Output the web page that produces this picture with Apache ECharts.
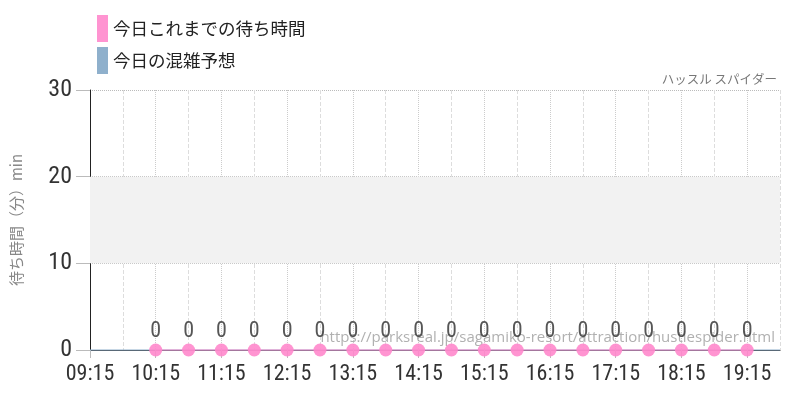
<!DOCTYPE html>
<html>
<head>
<meta charset="utf-8">
<script src="https://cdn.jsdelivr.net/npm/echarts@6/dist/echarts.min.js"></script>
<style>
html, body { margin: 0; padding: 0; background: #fff; }
#main { width: 800px; height: 400px; }
</style>
</head>
<body>
<div id="main"></div>
<script>
var times = ['09:15','09:45','10:15','10:45','11:15','11:45','12:15','12:45','13:15','13:45','14:15',
             '14:45','15:15','15:45','16:15','16:45','17:15','17:45','18:15','18:45','19:15','19:45'];
var waitTimes = [null,null,0,0,0,0,0,0,0,0,0,0,0,0,0,0,0,0,0,0,0,null];
var forecast = [0,0,0,0,0,0,0,0,0,0,0,0,0,0,0,0,0,0,0,0,0,0];
var yTicks = [0, 10, 20, 30];

var numFont = '"Roboto Condensed", "DejaVu Sans Condensed", "Roboto", sans-serif';
var jpFont = '"Noto Sans CJK JP", sans-serif';

var dom = document.getElementById("main");
var myChart = echarts.init(dom);
var option = {
    animation: false,
    title: {
        text: 'ハッスル スパイダー',
        right: 18,
        top: 68,
        textStyle: { fontFamily: jpFont, fontSize: 12.5, fontWeight: 'normal', color: '#777' }
    },
    legend: {
        orient: 'vertical',
        left: 92,
        top: 10,
        itemWidth: 11,
        itemHeight: 27,
        itemGap: 5,
        icon: 'rect',
        textStyle: { fontFamily: jpFont, fontSize: 17.5, color: '#222' },
        data: ['今日これまでの待ち時間', '今日の混雑予想']
    },
    graphic: [{
        type: 'text',
        right: 25,
        top: 330,
        z: 1,
        style: {
            text: 'https://parksreal.jp/sagamiko-resort/attraction/hustlespider.html',
            fontFamily: '"Open Sans", sans-serif',
            fontSize: 15,
            fill: 'rgba(150,150,150,0.75)'
        }
    }],
    grid: { left: 90, right: 20, top: 90, bottom: 50 },
    xAxis: [{
        type: 'category',
        boundaryGap: false,
        data: times,
        axisLine: { lineStyle: { color: '#222' } },
        axisTick: { interval: 1, length: 8, lineStyle: { color: '#bbb' } },
        axisLabel: { interval: 1, fontFamily: numFont, fontSize: 22, color: '#333', margin: 13 },
        splitLine: { show: true, interval: function (i) { return i % 2 === 0; }, lineStyle: { type: 'dotted', color: '#ccc' } }
    }, {
        type: 'category',
        boundaryGap: false,
        data: times,
        position: 'bottom',
        axisLine: { show: false },
        axisTick: { show: false },
        axisLabel: { show: false },
        splitLine: { show: true, interval: function (i) { return i % 2 === 1; }, lineStyle: { type: 'dashed', color: '#ddd' } }
    }],
    yAxis: {
        type: 'value',
        min: 0,
        max: 30,
        interval: 10,
        name: '待ち時間（分）min',
        nameLocation: 'middle',
        nameGap: 66,
        nameTextStyle: { fontFamily: jpFont, fontSize: 15, color: '#888' },
        axisLine: { show: true, lineStyle: { color: '#222' } },
        axisTick: { show: true, length: 14, lineStyle: { color: '#bbb' } },
        axisLabel: { fontFamily: numFont, fontSize: 24, color: '#333', margin: 18 },
        splitLine: { show: true, lineStyle: { type: 'dotted', color: '#bbb' } }
    },
    series: [{
        name: '今日これまでの待ち時間',
        type: 'line',
        data: waitTimes,
        color: '#ff88cc',
        z: 4,
        symbol: 'circle',
        symbolSize: 13,
        itemStyle: { color: '#ff88cc', opacity: 0.9 },
        lineStyle: { color: '#ff88cc', width: 2, opacity: 0.45 },
        label: { show: true, position: 'top', distance: 1, fontFamily: numFont, fontSize: 22, color: '#444' }
    }, {
        name: '今日の混雑予想',
        type: 'line',
        data: forecast,
        color: '#8fb0cc',
        z: 3,
        symbol: 'none',
        lineStyle: { color: '#8fb0cc', width: 2, opacity: 0.5 },
        markArea: {
            silent: true,
            itemStyle: { color: '#f2f2f2' },
            data: [[{ yAxis: yTicks[1] }, { yAxis: yTicks[2] }]]
        }
    }]
};
myChart.setOption(option, true);
</script>
</body>
</html>
